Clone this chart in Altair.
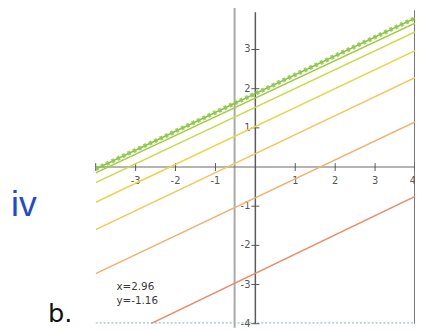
import altair as alt
import pandas as pd

# ---- data ----
series = ["L1", "L2", "L3", "L4", "L5", "L6", "L7"]
x_left = [-4.0, -4.0, -4.0, -4.0, -4.0, -4.0, -2.62]
y_left = [-0.05, -0.15, -0.40, -0.90, -1.60, -2.72, -4.0]
x_right = [4.0, 4.0, 4.0, 4.0, 4.0, 4.0, 4.0]
y_right = [3.80, 3.67, 3.45, 2.97, 2.28, 1.15, -0.75]
colors = ["#86c23c", "#9fcd3a", "#c9da45", "#e7d64c", "#f0c65e", "#f1b06c", "#e98f6c"]

x_ticks = [-4, -3, -2, -1, 1, 2, 3, 4]
x_labels = ["-3", "-2", "-1", "1", "2", "3"]
x_label_vals = [-3, -2, -1, 1, 2, 3]
x_edge_label = ["4"]
x_edge_val = [4]
y_ticks = [-4, -3, -2, -1, 1, 2, 3]
y_labels = ["3", "2", "1", "-1", "-2", "-3", "-4"]
y_label_vals = [3, 2, 1, -1, -2, -3, -4]

cursor_x = -0.52
readout = ["x=2.96", "y=-1.16"]
readout_x = [-3.48, -3.48]
readout_y = [-3.14, -3.50]

# ---- tables ----
rows = []
for i, s in enumerate(series):
    rows.append({"series": s, "o": 0, "x": x_left[i], "y": y_left[i]})
    rows.append({"series": s, "o": 1, "x": x_right[i], "y": y_right[i]})
lines_df = pd.DataFrame(rows)
dotted_df = lines_df[lines_df["series"] == "L1"]

xt_df = pd.DataFrame({"x": x_ticks, "y": [-0.1] * len(x_ticks), "y2": [0.1] * len(x_ticks)})
yt_df = pd.DataFrame({"y": y_ticks, "x": [-0.1] * len(y_ticks), "x2": [0.1] * len(y_ticks)})
xl_df = pd.DataFrame({"x": x_label_vals, "y": [0] * len(x_label_vals), "t": x_labels})
xe_df = pd.DataFrame({"x": x_edge_val, "y": [0], "t": x_edge_label})
yl_df = pd.DataFrame({"y": y_label_vals, "x": [0] * len(y_label_vals), "t": y_labels})
ro_df = pd.DataFrame({"x": readout_x, "y": readout_y, "t": readout})

# vertical rules: cursor/fold line, y-axis, right border
vr_df = pd.DataFrame({
    "k": ["cursor", "yaxis", "border"],
    "x": [cursor_x, 0, 4],
    "y": [4.2, 3.95, 4.0],
    "y2": [-4.1, -4.0, -4.0],
})
# horizontal rules: x-axis, bottom dotted line
hr_df = pd.DataFrame({"k": ["xaxis", "bottom"], "y": [0, -3.98], "x": [-4, -4], "x2": [4, 4]})

notes_df = pd.DataFrame({"t": ["iv", "b."], "x": [-5.80, -4.89], "y": [-1.25, -3.95]})

xs = alt.Scale(domain=[-4, 4], nice=False, zero=False)
ys = alt.Scale(domain=[-4, 4], nice=False, zero=False)


def X(f="x"):
    return alt.X(f, type="quantitative", scale=xs, axis=None)


def Y(f="y"):
    return alt.Y(f, type="quantitative", scale=ys, axis=None)


cursor = alt.Chart(vr_df).transform_filter("datum.k == 'cursor'").mark_rule(
    color="#a9a9a9", strokeWidth=2
).encode(x=X(), y=Y(), y2="y2")
y_axis = alt.Chart(vr_df).transform_filter("datum.k == 'yaxis'").mark_rule(
    color="#5a5a5a", strokeWidth=1.5
).encode(x=X(), y=Y(), y2="y2")
right_border = alt.Chart(vr_df).transform_filter("datum.k == 'border'").mark_rule(
    color="#4a4a4a", strokeWidth=1.5
).encode(x=X(), y=Y(), y2="y2")
x_axis = alt.Chart(hr_df).transform_filter("datum.k == 'xaxis'").mark_rule(
    color="#6a6a6a", strokeWidth=1.2
).encode(x=X(), x2="x2", y=Y())
bottom_dots = alt.Chart(hr_df).transform_filter("datum.k == 'bottom'").mark_rule(
    color="#8ec6dc", strokeWidth=1.2, strokeDash=[2, 2]
).encode(x=X(), x2="x2", y=Y())

x_tick_marks = alt.Chart(xt_df).mark_rule(color="#555555", strokeWidth=1).encode(
    x=X(), y=Y(), y2="y2"
)
y_tick_marks = alt.Chart(yt_df).mark_rule(color="#555555", strokeWidth=1).encode(
    y=Y(), x=X(), x2="x2"
)

x_text = alt.Chart(xl_df).mark_text(
    fontSize=10, color="#555555", baseline="top", dy=9, font="DejaVu Sans"
).encode(x=X(), y=Y(), text="t:N")
x_edge_text = alt.Chart(xe_df).mark_text(
    fontSize=10, color="#555555", baseline="top", align="right", dy=9, dx=1, font="DejaVu Sans"
).encode(x=X(), y=Y(), text="t:N")
y_text = alt.Chart(yl_df).mark_text(
    fontSize=10, color="#555555", align="right", baseline="middle", dx=-5, font="DejaVu Sans"
).encode(y=Y(), x=X(), text="t:N")

color_scale = alt.Scale(domain=series, range=colors)

lines = alt.Chart(lines_df).mark_line(strokeWidth=1.5, clip=True).encode(
    x=X(), y=Y(), order="o:Q",
    color=alt.Color("series:N", scale=color_scale, legend=None),
)
beads = alt.Chart(dotted_df).mark_line(
    strokeWidth=4.5, strokeDash=[3, 3], clip=True, color="#8cc84a", opacity=0.85
).encode(x=X(), y=Y(), order="o:Q")

readout_text = alt.Chart(ro_df).mark_text(
    fontSize=10.5, color="#3a3a3a", align="left", baseline="alphabetic", font="DejaVu Sans"
).encode(x=X(), y=Y(), text="t:N")

iv_text = alt.Chart(notes_df).transform_filter("datum.t == 'iv'").mark_text(
    fontSize=36, color="#2248d6", align="center", baseline="alphabetic",
    font="Liberation Sans",
).encode(x=X(), y=Y(), text="t:N")

b_text = alt.Chart(notes_df).transform_filter("datum.t == 'b.'").mark_text(
    fontSize=26, color="#111111", align="center", baseline="alphabetic", font="DejaVu Sans",
).encode(x=X(), y=Y(), text="t:N")

chart = alt.layer(
    cursor, bottom_dots, x_axis, y_axis, right_border, x_tick_marks, y_tick_marks,
    x_text, x_edge_text, y_text, lines, beads, readout_text, iv_text, b_text,
).properties(
    width=324, height=318,
    padding={"left": 89, "top": 0, "right": 0, "bottom": 4},
    autosize=alt.AutoSizeParams(type="none"),
    background="white",
).configure_view(stroke=None)

chart.save("out.html", embed_options={"renderer": "svg", "actions": False})
